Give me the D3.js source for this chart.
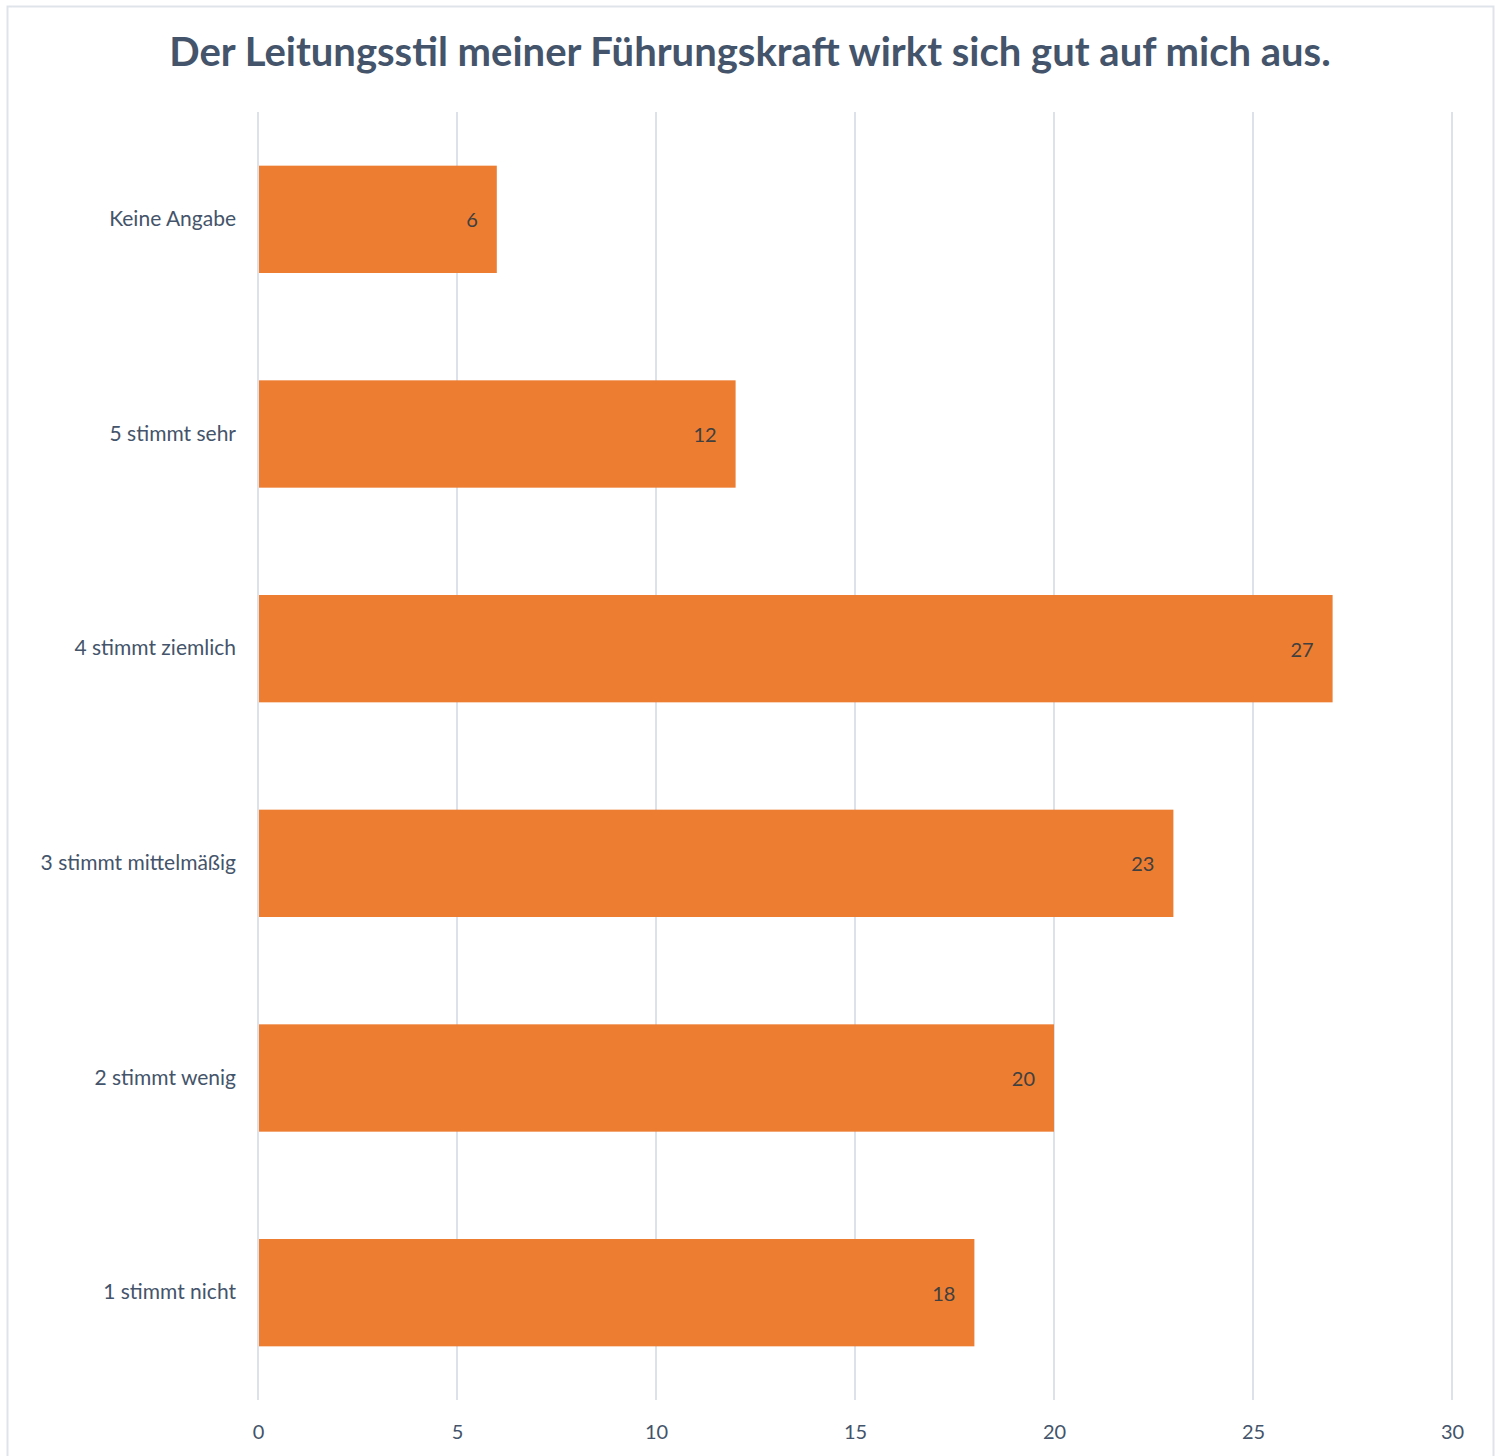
<!DOCTYPE html>
<html>
  <head>
    <title>Führungskraft</title>
    <meta charset="utf-8">
    <script src="https://d3js.org/d3.v7.min.js"></script>
    <style>
      body { margin: 0; background: #fff; }
      text { font-family: Lato, "Open Sans", sans-serif; }
    </style>
  </head>
  <body>
  <div id="chart"></div>
  <script>
    var categories = ['Keine Angabe', '5 stimmt sehr', '4 stimmt ziemlich', '3 stimmt mittelmäßig', '2 stimmt wenig', '1 stimmt nicht'];
    var values = [6, 12, 27, 23, 20, 18];
    var xTicks = [0, 5, 10, 15, 20, 25, 30];
    var title = 'Der Leitungsstil meiner Führungskraft wirkt sich gut auf mich aus.';

    var width = 1501, height = 1456;
    var svg = d3.select('#chart').append('svg')
      .attr('width', width)
      .attr('height', height);

    // chart frame
    svg.append('rect')
      .attr('x', 7.5).attr('y', 6.5)
      .attr('width', 1486).attr('height', 1470)
      .attr('fill', 'none')
      .attr('stroke', '#dfe3ea')
      .attr('stroke-width', 2);

    svg.append('text')
      .attr('x', 750).attr('y', 66)
      .attr('text-anchor', 'middle')
      .attr('font-size', 40)
      .attr('font-weight', 'bold')
      .attr('fill', '#44546a')
      .text(title);

    var plotTop = 112, plotBottom = 1400;
    var x = d3.scaleLinear().domain([0, 30]).range([258, 1452]);
    var y = d3.scaleBand().domain(categories).range([plotTop, plotBottom]).paddingInner(0.5).paddingOuter(0.25);

    // gridlines
    svg.append('g').selectAll('line')
      .data(xTicks)
      .enter().append('line')
      .attr('x1', function(d) { return x(d); })
      .attr('x2', function(d) { return x(d); })
      .attr('y1', plotTop).attr('y2', plotBottom)
      .attr('stroke', '#dde1ea')
      .attr('stroke-width', 2);

    // x axis labels
    var xAxis = d3.axisBottom(x).tickValues(xTicks).tickSize(0).tickPadding(0);
    var gx = svg.append('g').attr('transform', 'translate(0,1425)').call(xAxis);
    gx.select('.domain').remove();
    gx.selectAll('text')
      .attr('font-size', 20)
      .attr('fill', '#44546a')
      .style('font-family', 'Lato, "Open Sans", sans-serif');

    // y axis labels
    var yAxis = d3.axisLeft(y).tickSize(0).tickPadding(0);
    var gy = svg.append('g').attr('transform', 'translate(236,0)').call(yAxis);
    gy.select('.domain').remove();
    gy.selectAll('text')
      .attr('font-size', 21)
      .attr('fill', '#44546a')
      .style('font-family', 'Lato, "Open Sans", sans-serif');

    var data = categories.map(function(c, i) { return {cat: c, val: values[i]}; });

    svg.append('g').selectAll('rect')
      .data(data)
      .enter().append('rect')
      .attr('x', x(0) + 1)
      .attr('y', function(d) { return y(d.cat); })
      .attr('width', function(d) { return x(d.val) - x(0) - 1; })
      .attr('height', y.bandwidth())
      .attr('fill', '#ed7d31');

    svg.append('g').selectAll('text')
      .data(data)
      .enter().append('text')
      .attr('x', function(d) { return x(d.val) - 19; })
      .attr('y', function(d) { return y(d.cat) + y.bandwidth() / 2; })
      .attr('dy', '0.4em')
      .attr('text-anchor', 'end')
      .attr('font-size', 20)
      .attr('fill', '#404040')
      .text(function(d) { return d.val; });
  </script>
  </body>
</html>
